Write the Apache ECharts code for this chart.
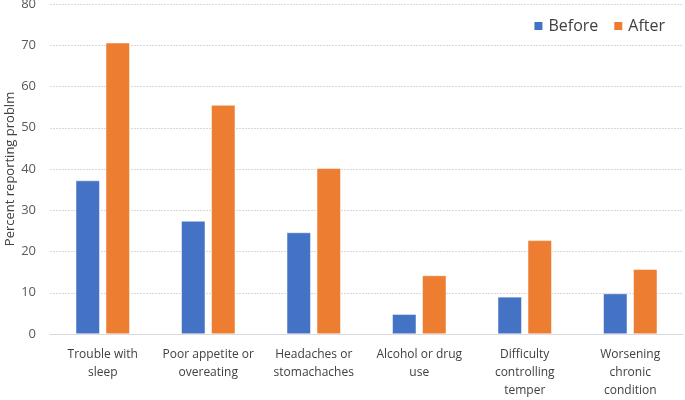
<!DOCTYPE html>
<html>
<head>
<meta charset="utf-8">
<script src="https://cdn.jsdelivr.net/npm/echarts@6/dist/echarts.min.js"></script>
<style>
  html, body { margin: 0; padding: 0; background: #fff; }
  #chart { width: 685px; height: 400px; }
</style>
</head>
<body>
<div id="chart"></div>
<script>
var categories = [
  'Trouble with\nsleep',
  'Poor appetite or\novereating',
  'Headaches or\nstomachaches',
  'Alcohol or drug\nuse',
  'Difficulty\ncontrolling\ntemper',
  'Worsening\nchronic\ncondition'
];
var before = [37.2, 27.4, 24.6, 4.8, 9.0, 9.8];
var after = [70.6, 55.5, 40.2, 14.2, 22.7, 15.7];
var yTicks = { min: 0, max: 80, interval: 10 };

var font = 'Open Sans';
var myChart = echarts.init(document.getElementById('chart'));
var option = {
  animation: false,
  textStyle: { fontFamily: font },
  grid: { left: 50, right: 2, top: 4, bottom: 66, outerBoundsMode: 'none', containLabel: false },
  legend: {
    data: ['Before', 'After'],
    top: 13,
    right: 15,
    icon: 'rect',
    itemWidth: 10,
    itemHeight: 10,
    itemGap: 14,
    textStyle: { fontSize: 16, color: '#404040', fontFamily: font }
  },
  xAxis: {
    type: 'category',
    data: categories,
    axisTick: { show: false },
    axisLine: { lineStyle: { color: '#d9d9d9' } },
    axisLabel: {
      interval: 0,
      color: '#404040',
      fontSize: 12,
      lineHeight: 18,
      margin: 12,
      fontFamily: font
    }
  },
  yAxis: {
    type: 'value',
    min: yTicks.min,
    max: yTicks.max,
    interval: yTicks.interval,
    name: 'Percent reporting problm',
    nameLocation: 'middle',
    nameGap: 33,
    nameMoveOverlap: false,
    nameTextStyle: { color: '#404040', fontSize: 13, fontFamily: font },
    axisLine: { show: false },
    axisTick: { show: false },
    axisLabel: { color: '#595959', fontSize: 13, margin: 14, fontFamily: font },
    splitLine: { lineStyle: { color: '#d9d9d9', type: [2, 1] } }
  },
  series: [
    {
      name: 'Before',
      type: 'bar',
      data: before,
      barWidth: 24,
      barGap: '25%',
      itemStyle: { color: '#4472C4', borderColor: '#fff', borderWidth: 0.5 }
    },
    {
      name: 'After',
      type: 'bar',
      data: after,
      barWidth: 24,
      itemStyle: { color: '#ED7D31', borderColor: '#fff', borderWidth: 0.5 }
    }
  ]
};
myChart.setOption(option);
</script>
</body>
</html>
